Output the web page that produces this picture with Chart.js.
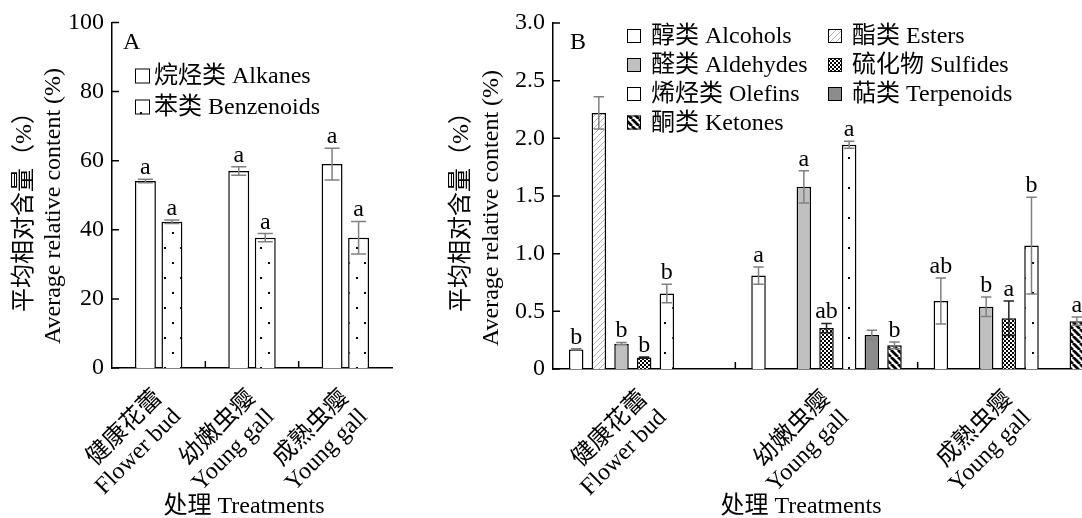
<!DOCTYPE html>
<html>
<head>
<meta charset="utf-8">
<script src="https://cdn.jsdelivr.net/npm/chart.js@4.4.1/dist/chart.umd.min.js"></script>
<style>
html,body{margin:0;padding:0;background:#fff;overflow:hidden;width:1082px;height:518px;position:relative}
#ca{position:absolute;left:0;top:0}
#cb{position:absolute;left:380px;top:0}
</style>
</head>
<body>
<canvas id="ca" width="400" height="518"></canvas>
<canvas id="cb" width="730" height="518"></canvas>
<script>
// ---------------- data ----------------
const categories = [['健康花蕾', 'Flower bud'], ['幼嫩虫瘿', 'Young gall'], ['成熟虫瘿', 'Young gall']];

// Panel A
const yTicksA = [0, 20, 40, 60, 80, 100];
const alkanes = [54.1, 57.0, 59.0];
const alkanesErr = [0.5, 1.2, 4.6];
const alkanesSig = ['a', 'a', 'a'];
const benzenoids = [42.3, 37.7, 37.7];
const benzenoidsErr = [0.5, 1.2, 4.7];
const benzenoidsSig = ['a', 'a', 'a'];

// Panel B
const yTicksB = [0, 0.5, 1.0, 1.5, 2.0, 2.5, 3.0];
const yTickLabelsB = ['0', '0.5', '1.0', '1.5', '2.0', '2.5', '3.0'];
const alcohols = [0.17, 0.81, 0.59];
const alcoholsErr = [0.005, 0.075, 0.20];
const alcoholsSig = ['b', 'a', 'ab'];
const esters = [2.22, 0, 0];
const estersErr = [0.14, 0, 0];
const estersSig = ['', '', ''];
const aldehydes = [0.22, 1.58, 0.54];
const aldehydesErr = [0.01, 0.14, 0.085];
const aldehydesSig = ['b', 'a', 'b'];
const sulfides = [0.10, 0.355, 0.44];
const sulfidesErr = [0.005, 0.04, 0.15];
const sulfidesSig = ['b', 'ab', 'a'];
const olefins = [0.655, 1.945, 1.07];
const olefinsErr = [0.08, 0.03, 0.42];
const olefinsSig = ['b', 'a', 'b'];
const terpenoids = [0, 0.295, 0];
const terpenoidsErr = [0, 0.04, 0];
const terpenoidsSig = ['', '', ''];
const ketones = [0, 0.205, 0.415];
const ketonesErr = [0, 0.03, 0.035];
const ketonesSig = ['', 'b', 'a'];

// ---------------- styling ----------------
const FONT = '"Liberation Serif", "Times New Roman", "Noto Sans CJK SC", serif';
Chart.defaults.color = '#000';
Chart.defaults.font.family = FONT;

function makePattern(kind) {
  const c = document.createElement('canvas');
  const g = c.getContext('2d');
  if (kind === 'dots') {
    c.width = 16; c.height = 30;
    g.fillStyle = '#fff'; g.fillRect(0, 0, 16, 30);
    g.fillStyle = '#000';
    g.fillRect(4, 7, 2, 2); g.fillRect(12, 22, 2, 2);
  } else if (kind === 'hatch') {
    c.width = 6; c.height = 6;
    g.fillStyle = '#fff'; g.fillRect(0, 0, 6, 6);
    g.strokeStyle = '#b0b0b0'; g.lineWidth = 1;
    g.beginPath();
    [-6, 0, 6].forEach(k => { g.moveTo(k, 6); g.lineTo(k + 6, 0); });
    g.stroke();
  } else if (kind === 'check') {
    c.width = 4; c.height = 4;
    g.fillStyle = '#fff'; g.fillRect(0, 0, 4, 4);
    g.fillStyle = '#000'; g.fillRect(0, 0, 2, 2); g.fillRect(2, 2, 2, 2);
  } else if (kind === 'stripe') {
    c.width = 7; c.height = 7;
    g.fillStyle = '#fff'; g.fillRect(0, 0, 7, 7);
    g.strokeStyle = '#000'; g.lineWidth = 2.8;
    g.beginPath();
    [-7, 0, 7].forEach(k => { g.moveTo(k, 0); g.lineTo(k + 7, 7); });
    g.stroke();
  }
  return g.createPattern(c, 'repeat');
}
const PAT = { dots: makePattern('dots'), hatch: makePattern('hatch'), check: makePattern('check'), stripe: makePattern('stripe') };

const decorPlugin = {
  id: 'decor',
  afterDatasetsDraw(chart) {
    const ctx = chart.ctx, ys = chart.scales.y;
    ctx.save();
    chart.data.datasets.forEach((ds, di) => {
      const meta = chart.getDatasetMeta(di);
      meta.data.forEach((bar, i) => {
        const v = ds.data[i];
        if (!v) return;
        const e = ds.err ? ds.err[i] : 0;
        let top = bar.y;
        if (e > 0) {
          top = ys.getPixelForValue(v + e);
          const bot = ys.getPixelForValue(v - e);
          const cw = bar.width * 0.36;
          ctx.strokeStyle = ds.errColor || '#808080';
          ctx.lineWidth = 1.5;
          ctx.beginPath();
          ctx.moveTo(bar.x, top); ctx.lineTo(bar.x, bot);
          ctx.moveTo(bar.x - cw, top); ctx.lineTo(bar.x + cw, top);
          ctx.moveTo(bar.x - cw, bot); ctx.lineTo(bar.x + cw, bot);
          ctx.stroke();
        }
        const s = ds.sig ? ds.sig[i] : '';
        if (s) {
          ctx.fillStyle = '#000';
          ctx.font = '24px ' + FONT;
          ctx.textAlign = 'center';
          ctx.textBaseline = 'alphabetic';
          ctx.fillText(s, bar.x, Math.min(top, bar.y) - 5);
        }
      });
    });
    ctx.restore();
  },
  afterDraw(chart, args, o) {
    const ctx = chart.ctx, ca = chart.chartArea, xs = chart.scales.x, ys = chart.scales.y;
    ctx.save();
    // inward ticks
    ctx.strokeStyle = '#000'; ctx.lineWidth = 1.5;
    ctx.beginPath();
    ys.ticks.forEach(t => {
      const p = ys.getPixelForValue(t.value);
      ctx.moveTo(ca.left, p); ctx.lineTo(ca.left + 7, p);
    });
    const n = chart.data.labels.length;
    for (let i = 1; i < n; i++) {
      const p = (xs.getPixelForValue(i - 1) + xs.getPixelForValue(i)) / 2;
      ctx.moveTo(p, ca.bottom); ctx.lineTo(p, ca.bottom - 7);
    }
    ctx.stroke();
    ctx.fillStyle = '#000';
    ctx.font = '24px ' + FONT;
    // panel letter
    ctx.textAlign = 'left'; ctx.textBaseline = 'middle';
    ctx.fillText(o.panel.text, o.panel.x, o.panel.y);
    // legend
    o.legend.items.forEach(it => {
      const ds = chart.data.datasets[it.ds];
      const s = o.legend.box;
      ctx.fillStyle = ds.backgroundColor;
      ctx.fillRect(it.x, it.y - s / 2, s, s);
      ctx.strokeStyle = '#000'; ctx.lineWidth = 1;
      ctx.strokeRect(it.x + 0.5, it.y - s / 2 + 0.5, s - 1, s - 1);
      ctx.fillStyle = '#000';
      ctx.textAlign = 'left'; ctx.textBaseline = 'middle';
      ctx.fillText(ds.label, it.x + s + o.legend.gap, it.y + 1);
    });
    // y titles
    o.yTitle.forEach(l => {
      ctx.save();
      ctx.translate(l.x, l.y);
      ctx.rotate(-Math.PI / 2);
      ctx.textAlign = 'center'; ctx.textBaseline = 'middle';
      ctx.fillText(l.text, 0, 0);
      ctx.restore();
    });
    // x title
    ctx.textAlign = 'center'; ctx.textBaseline = 'middle';
    ctx.fillText(o.xTitle.text, o.xTitle.x, o.xTitle.y);
    ctx.restore();
  }
};

function baseOptions(cfg) {
  return {
    responsive: false,
    devicePixelRatio: 1,
    animation: false,
    layout: { padding: { left: 0, right: cfg.padRight, top: cfg.padTop, bottom: 0 } },
    plugins: {
      legend: { display: false },
      tooltip: { enabled: false },
      decor: cfg.decor
    },
    scales: {
      x: {
        grid: { display: false },
        border: { display: true, color: '#000', width: 1.5 },
        ticks: {
          autoSkip: false, minRotation: 45, maxRotation: 45, padding: 9,
          font: { size: 24, family: FONT, lineHeight: 1.1 }, color: '#000'
        },
        afterFit(s) { s.height = cfg.xHeight; }
      },
      y: {
        min: cfg.yMin, max: cfg.yMax,
        grid: { display: false, drawTicks: false },
        border: { display: true, color: '#000', width: 1.5 },
        ticks: {
          padding: 8,
          font: { size: 24, family: FONT }, color: '#000',
          callback: cfg.tickCallback
        },
        afterBuildTicks(s) { s.ticks = cfg.yTicks.map(v => ({ value: v })); },
        afterFit(s) { s.width = cfg.yWidth; }
      }
    }
  };
}

// ---------------- Chart A ----------------
new Chart(document.getElementById('ca'), {
  type: 'bar',
  data: {
    labels: categories,
    datasets: [
      { label: '烷烃类 Alkanes', data: alkanes, err: alkanesErr, sig: alkanesSig,
        backgroundColor: '#ffffff', borderColor: '#000', borderWidth: 1.5,
        categoryPercentage: 0.568, barPercentage: 0.79, errColor: '#808080' },
      { label: '苯类 Benzenoids', data: benzenoids, err: benzenoidsErr, sig: benzenoidsSig,
        backgroundColor: PAT.dots, borderColor: '#000', borderWidth: 1.5,
        categoryPercentage: 0.568, barPercentage: 0.79, errColor: '#808080' }
    ]
  },
  options: baseOptions({
    padRight: 8, padTop: 21, xHeight: 150, yWidth: 112, yMin: 0, yMax: 100,
    yTicks: yTicksA, tickCallback: v => String(v),
    decor: {
      panel: { text: 'A', x: 123, y: 43 },
      legend: { box: 15, gap: 4, items: [ { ds: 0, x: 135, y: 76 }, { ds: 1, x: 135, y: 107 } ] },
      yTitle: [ { text: '平均相对含量（%）', x: 25, y: 206 }, { text: 'Average relative content (%)', x: 54, y: 206 } ],
      xTitle: { text: '处理 Treatments', x: 244, y: 507 }
    }
  }),
  plugins: [decorPlugin]
});

// ---------------- Chart B ----------------
const bp = { categoryPercentage: 0.87, barPercentage: 0.64, borderColor: '#000', borderWidth: 1.5, errColor: '#808080' };
new Chart(document.getElementById('cb'), {
  type: 'bar',
  data: {
    labels: categories,
    datasets: [
      Object.assign({ label: '醇类 Alcohols', data: alcohols, err: alcoholsErr, sig: alcoholsSig, backgroundColor: '#ffffff' }, bp),
      Object.assign({ label: '酯类 Esters', data: esters, err: estersErr, sig: estersSig, backgroundColor: PAT.hatch }, bp),
      Object.assign({ label: '醛类 Aldehydes', data: aldehydes, err: aldehydesErr, sig: aldehydesSig, backgroundColor: '#c0c0c0' }, bp),
      Object.assign({ label: '硫化物 Sulfides', data: sulfides, err: sulfidesErr, sig: sulfidesSig, backgroundColor: PAT.check }, bp, { errColor: '#222222' }),
      Object.assign({ label: '烯烃类 Olefins', data: olefins, err: olefinsErr, sig: olefinsSig, backgroundColor: PAT.dots }, bp),
      Object.assign({ label: '萜类 Terpenoids', data: terpenoids, err: terpenoidsErr, sig: terpenoidsSig, backgroundColor: '#8c8c8c' }, bp),
      Object.assign({ label: '酮类 Ketones', data: ketones, err: ketonesErr, sig: ketonesSig, backgroundColor: PAT.stripe }, bp)
    ]
  },
  options: baseOptions({
    padRight: 10, padTop: 23, xHeight: 149, yWidth: 173, yMin: 0, yMax: 3,
    yTicks: yTicksB, tickCallback: (v, i) => yTickLabelsB[i],
    decor: {
      panel: { text: 'B', x: 190, y: 43 },
      legend: { box: 14, gap: 10, items: [
        { ds: 0, x: 247, y: 36 }, { ds: 2, x: 247, y: 65 }, { ds: 4, x: 247, y: 94 }, { ds: 6, x: 247, y: 122.5 },
        { ds: 1, x: 448, y: 36 }, { ds: 3, x: 448, y: 65 }, { ds: 5, x: 448, y: 94 }
      ] },
      yTitle: [ { text: '平均相对含量（%）', x: 82, y: 206 }, { text: 'Average relative content (%)', x: 112, y: 208 } ],
      xTitle: { text: '处理 Treatments', x: 421, y: 507 }
    }
  }),
  plugins: [decorPlugin]
});
</script>
</body>
</html>
